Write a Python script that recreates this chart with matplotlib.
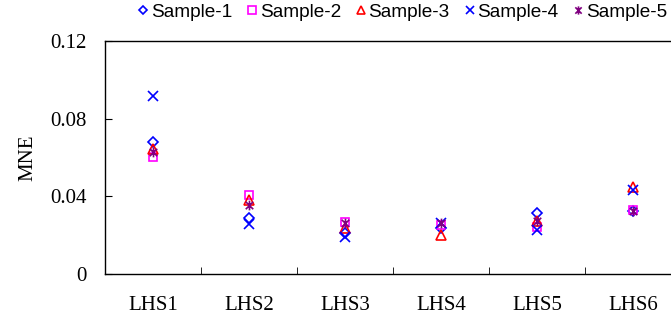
import numpy as np
import matplotlib
matplotlib.use("Agg")
import matplotlib.pyplot as plt
from matplotlib.path import Path

# 데이터
categories = ["LHS1", "LHS2", "LHS3", "LHS4", "LHS5", "LHS6"]
sample1 = [0.0678, 0.0290, 0.0213, 0.0235, 0.0313, 0.0325]
sample2 = [0.0601, 0.0407, 0.0269, 0.0252, 0.0244, 0.0330]
sample3 = [0.0642, 0.0380, 0.0238, 0.0201, 0.0275, 0.0450]
sample4 = [0.0918, 0.0257, 0.0192, 0.0261, 0.0227, 0.0433]
sample5 = [0.0630, 0.0355, 0.0264, 0.0261, 0.0272, 0.0325]

# 별 모양 마커 (x + 세로선)
star = Path([(-1, -1), (1, 1), (-1, 1), (1, -1), (0, -1.3), (0, 1.3)],
            [Path.MOVETO, Path.LINETO, Path.MOVETO, Path.LINETO, Path.MOVETO, Path.LINETO])

fig = plt.figure(figsize=(6.71, 3.25), dpi=100)
ax = fig.add_axes([105/671, 51/325, 576/671, 233/325])

x = np.arange(len(categories))
ax.plot(x, sample1, ls="none", marker="D", ms=5, mfc="none", mec="#0000FF", mew=1.2, label="Sample-1")
ax.plot(x, sample2, ls="none", marker="s", ms=6, mfc="none", mec="#FF00FF", mew=1.2, label="Sample-2")
ax.plot(x, sample3, ls="none", marker="^", ms=6.5, mfc="none", mec="#FF0000", mew=1.2, label="Sample-3")
ax.plot(x, sample4, ls="none", marker="x", ms=6.5, mfc="none", mec="#0000FF", mew=1.2, label="Sample-4")
ax.plot(x, sample5, ls="none", marker=star, ms=7, mfc="none", mec="#800080", mew=1.2, label="Sample-5")

ax.set_xlim(-0.5, 5.5)
ax.set_ylim(0, 0.12)
ax.set_yticks([0, 0.04, 0.08, 0.12])
ax.set_yticklabels(["0", "0.04", "0.08", "0.12"])
ax.set_xticks(x)
ax.set_xticklabels(categories)
ax.set_xticks(np.arange(0.5, 5.5, 1), minor=True)
ax.tick_params(axis="x", which="major", length=0, pad=16)
ax.tick_params(axis="x", which="minor", direction="in", length=5)
ax.tick_params(axis="y", direction="in", length=5, pad=13)
for lab in ax.get_xticklabels() + ax.get_yticklabels():
    lab.set_family("Liberation Serif")
    lab.set_fontsize(15)
for s in ax.spines.values():
    s.set_linewidth(1.0)

ax.set_ylabel("MNE", family="Liberation Serif", fontsize=15)
ax.yaxis.set_label_coords(-0.118, 0.5)

fig.legend(loc="upper right", bbox_to_anchor=(1.0, 1.0), ncol=5, frameon=False,
           prop={"family": "Liberation Sans", "size": 13.7}, handlelength=0.4,
           handletextpad=0.2, columnspacing=0.85, borderaxespad=0.0, borderpad=0.2,
           markerscale=0.85)

plt.savefig("out.png", dpi=100)
